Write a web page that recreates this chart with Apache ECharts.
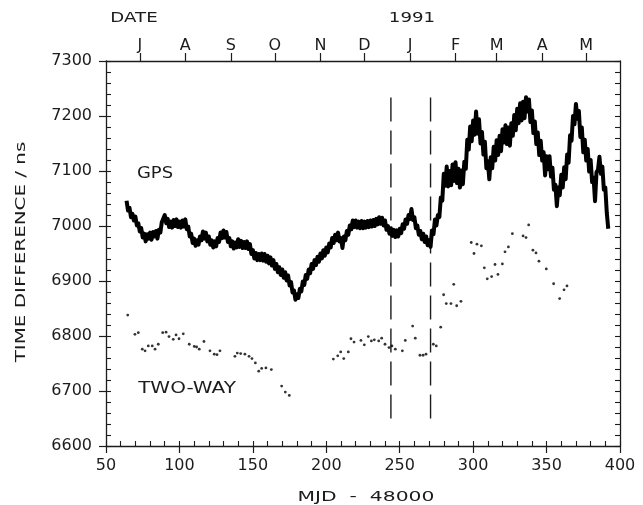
<!DOCTYPE html>
<html>
<head>
<meta charset="utf-8">
<title>GPS and two-way time difference</title>
<script src="https://cdn.jsdelivr.net/npm/echarts@6/dist/echarts.min.js"></script>
<style>
  html, body { margin: 0; padding: 0; background: #fff; }
  #chart { width: 643px; height: 505px; }
</style>
</head>
<body>
<div id="chart"></div>
<script>
// Daily GPS time difference (ns), starting at MJD-48000 = 64
const gpsFirstDay = 64;
const gpsValues = [
  7046, 7028, 7033, 7016, 7022, 7010, 7017, 7001, 7005, 6990,
  6996, 6979, 6986, 6972, 6985, 6977, 6988, 6975, 6989, 6981,
  6991, 6977, 6993, 6988, 7007, 7004, 7020, 7005, 7013, 6998,
  7008, 6997, 7011, 7000, 7012, 6998, 7008, 6997, 7010, 6999,
  7012, 6994, 6999, 6981, 6986, 6969, 6977, 6964, 6974, 6966,
  6981, 6974, 6990, 6977, 6988, 6972, 6981, 6966, 6974, 6961,
  6972, 6963, 6978, 6971, 6988, 6978, 6992, 6979, 6989, 6971,
  6978, 6963, 6972, 6959, 6970, 6961, 6976, 6962, 6973, 6960,
  6971, 6960, 6972, 6958, 6967, 6949, 6956, 6941, 6951, 6938,
  6949, 6938, 6950, 6937, 6949, 6935, 6946, 6932, 6943, 6928,
  6938, 6922, 6931, 6916, 6925, 6911, 6921, 6906, 6916, 6901,
  6910, 6892, 6898, 6879, 6883, 6866, 6876, 6869, 6886, 6881,
  6899, 6893, 6911, 6904, 6921, 6914, 6931, 6922, 6938, 6929,
  6944, 6935, 6950, 6941, 6956, 6946, 6961, 6952, 6968, 6961,
  6978, 6969, 6984, 6974, 6988, 6972, 6978, 6960, 6981, 6974,
  6991, 6984, 7001, 6994, 7010, 6998, 7010, 6997, 7008, 6996,
  7009, 6996, 7008, 6997, 7009, 6998, 7010, 6999, 7011, 7000,
  7013, 7003, 7016, 7004, 7015, 7001, 7010, 6993, 7000, 6986,
  6996, 6982, 6993, 6980, 6992, 6981, 6995, 6987, 7003, 6995,
  7012, 7004, 7020, 7013, 7031, 7011, 7016, 6996, 7001, 6984,
  6991, 6976, 6986, 6971, 6981, 6965, 6974, 6962, 6992, 6985,
  7012, 7001, 7020, 7016,
  // 1991 from day 278: noisier record
  7052, 7046, 7095, 7073, 7108, 7072,
  7100, 7074, 7112, 7082, 7116, 7078, 7104, 7070, 7101, 7076,
  7117, 7104, 7157, 7139, 7181, 7154, 7192, 7166, 7208, 7168,
  7194, 7150, 7171, 7130, 7153, 7105, 7118, 7085, 7125, 7105,
  7144, 7119, 7156, 7129, 7164, 7136, 7176, 7152, 7183, 7149,
  7179, 7146, 7187, 7164, 7202, 7174, 7213, 7187, 7223, 7192,
  7226, 7196, 7234, 7208, 7230, 7189, 7210, 7169, 7190, 7149,
  7170, 7129, 7155, 7119, 7134, 7092, 7127, 7103, 7127, 7090,
  7106, 7066, 7075, 7036, 7070, 7056, 7093, 7070, 7107, 7085,
  7130, 7115, 7165, 7155, 7200, 7185, 7222, 7195, 7209, 7162,
  7179, 7134, 7157, 7119, 7140, 7099, 7120, 7080, 7088, 7045,
  7098, 7102, 7126, 7095, 7108, 7066, 7070, 7024, 6995
];

// Two-way satellite time transfer points
const twoWayDays = [
  64.8, 69.7, 72.0, 74.7, 76.6, 78.8, 81.5, 83.4, 85.6, 88.6,
  90.9, 92.9, 95.8, 97.7, 99.7, 102.6, 106.7, 110.1, 111.7, 113.5,
  116.7, 120.8, 123.7, 125.6, 127.6, 137.8, 139.4, 141.7, 144.6, 147.4,
  149.4, 151.7, 154.0, 156.0, 158.9, 162.6, 169.6, 172.1, 174.8,
  204.8, 207.8, 209.8, 211.9, 215.0, 216.8, 218.9, 223.6, 225.9, 228.6,
  230.7, 232.7, 235.7, 237.7, 240.0, 242.7, 244.7, 247.0, 251.8, 253.8,
  258.8, 260.6, 263.8, 265.9, 267.9, 272.9, 274.9, 277.9, 279.9, 281.7,
  284.9, 286.8, 288.8, 291.7, 298.7, 300.6, 302.6, 305.6, 307.6, 309.6,
  312.6, 314.9, 316.9, 319.9, 321.7, 324.0, 326.7, 334.0, 336.0, 337.8,
  340.7, 342.8, 344.8, 349.8, 354.8, 358.9, 361.9, 363.9
];
const twoWayValues = [
  6838, 6803, 6806, 6776, 6773, 6782, 6782, 6776, 6785, 6806,
  6807, 6799, 6794, 6802, 6795, 6804, 6785, 6781, 6780, 6776,
  6790, 6773, 6767, 6766, 6773, 6763, 6769, 6768, 6767, 6763,
  6759, 6751, 6736, 6741, 6742, 6739, 6709, 6698, 6692,
  6758, 6764, 6771, 6759, 6771, 6795, 6789, 6792, 6784, 6799,
  6791, 6793, 6791, 6796, 6785, 6779, 6782, 6776, 6773, 6792,
  6818, 6796, 6765, 6765, 6767, 6785, 6782, 6816, 6875, 6859,
  6859, 6894, 6855, 6863, 6970, 6950, 6967, 6964, 6924, 6904,
  6908, 6930, 6912, 6931, 6953, 6962, 6986, 6982, 6979, 7002,
  6956, 6951, 6936, 6922, 6895, 6868, 6884, 6891
];

// Vertical dashed markers (MJD-48000) and their vertical extent (ns)
const markerDays = [244, 271];
const markerRange = [6650, 7250];

// Month starts along the top date axis
const monthDays = [73, 104, 135, 165, 196, 226, 257, 288, 316, 347, 377];
const monthLetters = ['J', 'A', 'S', 'O', 'N', 'D', 'J', 'F', 'M', 'A', 'M'];

const xMin = 50, xMax = 400, xStep = 50, xMinorStep = 10;
const yMin = 6600, yMax = 7300, yStep = 100, yMinorStep = 20;

const ink = '#1c1c1c';
const font = 'DejaVu Sans, Liberation Sans, sans-serif';

const gpsData = gpsValues.map((v, i) => [gpsFirstDay + i, v]);
const twoWayData = twoWayDays.map((d, i) => [d, twoWayValues[i]]);

const chart = echarts.init(document.getElementById('chart'), null, { renderer: 'canvas' });

const markerSeries = markerDays.map(d => ({
  type: 'line',
  xAxisIndex: 0,
  yAxisIndex: 0,
  data: [[d, markerRange[0]], [d, markerRange[1]]],
  symbol: 'none',
  silent: true,
  lineStyle: { color: ink, width: 1.4, type: [24, 9] },
  z: 3
}));

// Stretched plotter-style captions
function caption(text, x, y, size, opts) {
  return Object.assign({
    type: 'text', x: x, y: y, scaleX: 1.3, silent: true,
    style: { text: text, font: size + 'px ' + font, fill: ink, align: 'center', verticalAlign: 'middle' }
  }, opts || {});
}

chart.setOption({
  animation: false,
  backgroundColor: '#ffffff',
  textStyle: { fontFamily: font, color: ink },
  grid: { left: 106, right: 23, top: 61, bottom: 59, containLabel: false },
  xAxis: [
    {
      type: 'value', position: 'bottom', min: xMin, max: xMax, interval: xStep,
      axisLine: { onZero: false, lineStyle: { color: ink, width: 1.3 } },
      axisTick: { inside: false, length: 7, lineStyle: { color: ink, width: 1.2 } },
      axisLabel: { margin: 12, fontFamily: font, fontSize: 16, color: ink, formatter: v => String(v) },
      splitLine: { show: false }
    },
    {
      type: 'value', position: 'bottom', min: xMin, max: xMax, interval: xMinorStep,
      axisLine: { show: false, onZero: false },
      axisTick: { inside: true, length: 5, lineStyle: { color: ink, width: 1.1 } },
      axisLabel: { show: false },
      splitLine: { show: false }
    },
    {
      type: 'value', position: 'top', min: xMin, max: xMax,
      axisLine: { onZero: false, lineStyle: { color: ink, width: 1.3 } },
      axisTick: { inside: false, length: 8, customValues: monthDays, lineStyle: { color: ink, width: 1.2 } },
      axisLabel: {
        margin: 7, fontFamily: font, fontSize: 16, color: ink,
        customValues: monthDays,
        formatter: v => monthLetters[monthDays.indexOf(v)] || ''
      },
      splitLine: { show: false }
    }
  ],
  yAxis: [
    {
      type: 'value', position: 'left', min: yMin, max: yMax, interval: yStep,
      axisLine: { onZero: false, lineStyle: { color: ink, width: 1.3 } },
      axisTick: { inside: false, length: 7, lineStyle: { color: ink, width: 1.2 } },
      axisLabel: { margin: 14, fontFamily: font, fontSize: 16, color: ink, formatter: v => String(v) },
      splitLine: { show: false }
    },
    {
      type: 'value', position: 'left', min: yMin, max: yMax, interval: yMinorStep,
      axisLine: { show: false, onZero: false },
      axisTick: { inside: true, length: 5, lineStyle: { color: ink, width: 1.1 } },
      axisLabel: { show: false },
      splitLine: { show: false }
    },
    {
      type: 'value', position: 'right', min: yMin, max: yMax, interval: yMinorStep,
      axisLine: { onZero: false, lineStyle: { color: ink, width: 1.3 } },
      axisTick: { inside: true, length: 5, lineStyle: { color: ink, width: 1.1 } },
      axisLabel: { show: false },
      splitLine: { show: false }
    }
  ],
  graphic: [
    caption('DATE', 134, 18, 14),
    caption('1991', 412, 18, 14),
    caption('GPS', 155, 174, 16, { scaleX: 1.12 }),
    caption('TWO-WAY', 187, 389, 16, { scaleX: 1.25 }),
    caption('MJD  -  48000', 366, 497, 14, { scaleX: 1.45 }),
    caption('TIME DIFFERENCE / ns', 21, 252, 14, { scaleX: 1.42, rotation: Math.PI / 2 })
  ],
  series: [
    {
      name: 'GPS', type: 'line', xAxisIndex: 0, yAxisIndex: 0,
      data: gpsData, symbol: 'none', silent: true,
      lineStyle: { color: '#000', width: 4, join: 'round' }, z: 4
    },
    {
      name: 'TWO-WAY', type: 'scatter', xAxisIndex: 0, yAxisIndex: 0,
      data: twoWayData, symbol: 'circle', symbolSize: 2.8, silent: true,
      itemStyle: { color: '#000' }, z: 5
    },
    ...markerSeries
  ]
});
</script>
</body>
</html>
